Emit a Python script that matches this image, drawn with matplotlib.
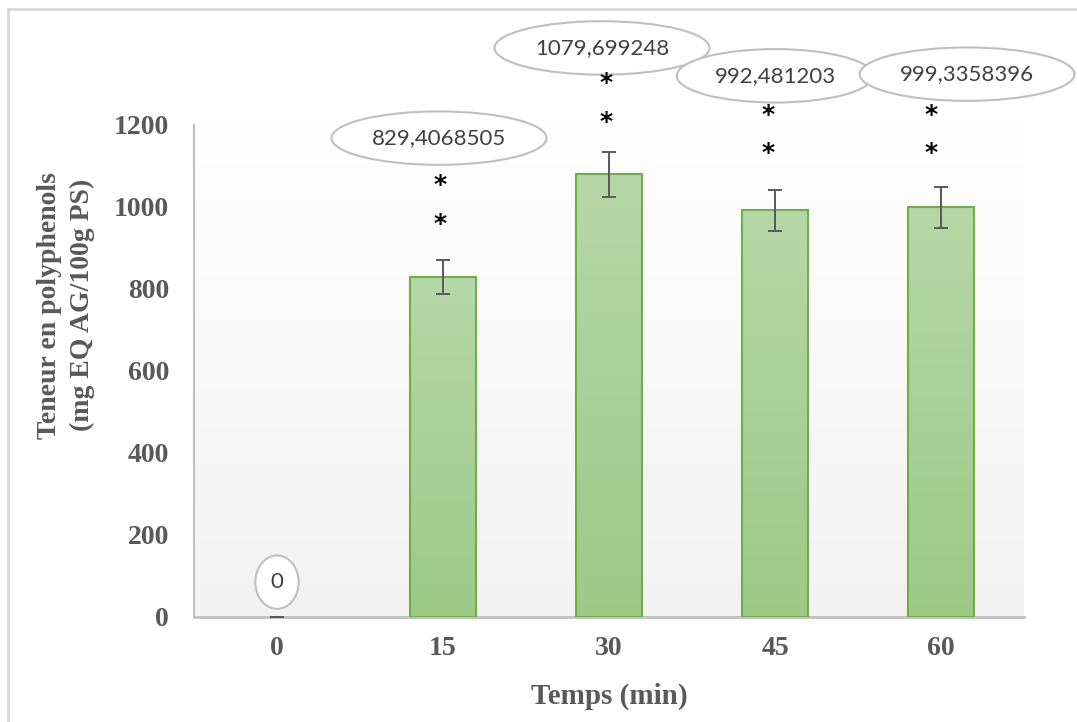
import matplotlib.pyplot as plt
import numpy as np
from matplotlib.patches import Rectangle

# données
temps = ['0', '15', '30', '45', '60']
teneur = [0, 829.4068505, 1079.699248, 992.481203, 999.3358396]
erreur = [0, 41, 55, 50, 50]
etiquettes = ['0', '829,4068505', '1079,699248', '992,481203', '999,3358396']

# positions des étiquettes (ellipses) et des astérisques, en unités des axes
lab_x = [0, 0.976, 1.958, 3.0, 4.157]
lab_y = [85, 1168, 1388, 1320, 1324]
ast_x = [0.98, 1.98, 2.96, 3.94]
ast_y = [(1054, 959), (1302, 1207), (1224, 1132), (1224, 1132)]

GRIS = '#595959'

fig = plt.figure(figsize=(10.77, 7.22), dpi=100)
ax = fig.add_axes([194 / 1077, 1 - 617 / 722, 830 / 1077, 492 / 722])

# cadre du graphique (seuls les bords gauche et haut sont visibles)
fig.patches.append(Rectangle((7.5 / 1077, -0.1), 1.2, 0.1 + 1 - 9.5 / 722,
                             transform=fig.transFigure, fill=False,
                             edgecolor='#d9d9d9', linewidth=2))

x = np.arange(len(temps))
ax.set_xlim(-0.5, 4.5)
ax.set_ylim(0, 1200)

# fond en dégradé
grad = np.linspace(1, 0, 256).reshape(-1, 1)
bg = np.ones((256, 1, 3)) * (0.949 + 0.051 * grad)[:, :, None]
ax.imshow(bg, extent=(-0.5, 4.5, 0, 1200), aspect='auto', zorder=0)

bars = ax.bar(x, teneur, width=0.4, color='none', edgecolor='#70ad47',
              linewidth=1.5, zorder=3)
top = np.array([0xb6, 0xd7, 0xa8]) / 255
bot = np.array([0x9c, 0xca, 0x86]) / 255
g = np.linspace(0, 1, 256)[:, None]
img = (top * (1 - g) + bot * g)[:, None, :]
for b in bars:
    if b.get_height() <= 0:
        b.set_visible(False)
        continue
    im = ax.imshow(img, extent=(b.get_x(), b.get_x() + b.get_width(), 0, b.get_height()),
                   aspect='auto', zorder=2)
    im.set_clip_path(b)

ax.errorbar(x, teneur, yerr=erreur, fmt='none', ecolor=GRIS,
            elinewidth=1.4, capsize=5, capthick=1.4, zorder=4, clip_on=False)

for i, txt in enumerate(etiquettes):
    ax.text(lab_x[i], lab_y[i], txt, ha='center', va='center', fontsize=16,
            family='Lato', color='#404040', clip_on=False, zorder=5,
            bbox=dict(boxstyle='ellipse,pad=0.4', fc='white', ec='#bfbfbf', lw=1.5))

for xa, ys in zip(ast_x, ast_y):
    for ya in ys:
        ax.text(xa, ya, '*', ha='center', va='center', fontsize=18,
                family='DejaVu Sans', fontweight='bold', color='black',
                clip_on=False, zorder=5)

ax.set_xticks(x)
ax.set_xticklabels(temps)
ax.set_yticks(range(0, 1201, 200))
ax.tick_params(length=0, labelsize=20, labelcolor=GRIS)
ax.tick_params(axis='x', pad=14)
ax.tick_params(axis='y', pad=18)
for lab in ax.get_xticklabels() + ax.get_yticklabels():
    lab.set_family('Liberation Serif')
    lab.set_fontweight('bold')

for s in ['top', 'right']:
    ax.spines[s].set_visible(False)
ax.spines['left'].set_color('#bfbfbf')
ax.spines['left'].set_linewidth(1.5)
ax.spines['bottom'].set_color('#bfbfbf')
ax.spines['bottom'].set_linewidth(2)

ax.set_xlabel('Temps (min)', fontsize=21, family='Liberation Serif',
              fontweight='bold', color=GRIS, va='center')
ax.xaxis.set_label_coords(0.5, -0.161)
ax.set_ylabel('Teneur en polyphenols\n(mg EQ AG/100g PS)', fontsize=20,
              family='Liberation Serif', fontweight='bold', color=GRIS,
              va='center', ha='center', linespacing=1.4)
ax.yaxis.set_label_coords(-0.154, 0.634)

fig.savefig('out.png', dpi=100)
